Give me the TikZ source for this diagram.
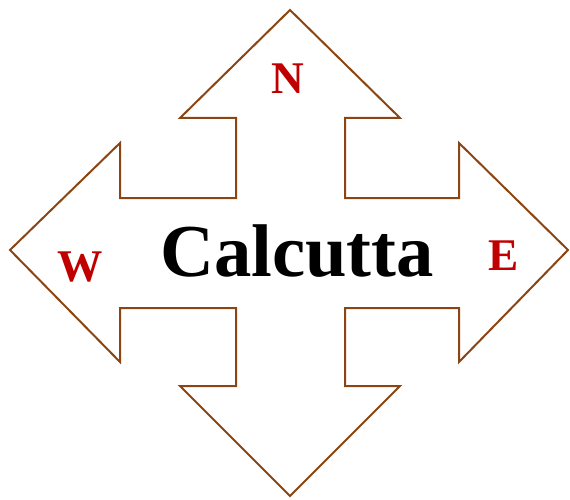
\documentclass[tikz,border=0pt]{standalone}
\usepackage{fontspec}
\setmainfont{Liberation Serif}
\definecolor{arrowbrown}{HTML}{8B4513}
\definecolor{dirred}{HTML}{C00000}
\begin{document}
\begin{tikzpicture}[x=0.75pt,y=-0.75pt,
  outline/.style={draw=arrowbrown,line width=1.5pt,line join=miter},
  dirlabel/.style={text=dirred,font=\bfseries\fontsize{34}{34}\selectfont,anchor=base,inner sep=0pt},
  citylabel/.style={text=black,font=\bfseries\fontsize{56}{56}\selectfont,anchor=base,inner sep=0pt}]
\useasboundingbox (0,0) rectangle (570,499);
\draw[outline] (290,10) -- (400,118) -- (345,118) -- (345,198) -- (459,198) -- (459,143)
  -- (568,250) -- (459,362) -- (459,308) -- (345,308) -- (345,386) -- (400,386)
  -- (290,496) -- (180,386) -- (236,386) -- (236,308) -- (120,308) -- (120,362)
  -- (10,250) -- (120,143) -- (120,198) -- (236,198) -- (236,118) -- (180,118) -- cycle;
\node[citylabel] (city) at (297,276) {Calcutta};
\node[dirlabel] (north) at (288,94) {N};
\node[dirlabel] (west) at (80,281) {W};
\node[dirlabel] (east) at (504,270) {E};
\end{tikzpicture}
\end{document}
